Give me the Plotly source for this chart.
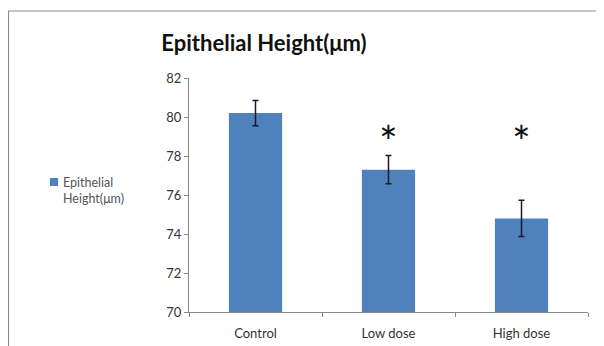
import plotly.graph_objects as go

categories = ["Control", "Low dose", "High dose"]
values = [80.2, 77.3, 74.8]
errors = [0.65, 0.72, 0.93]
significant = ["Low dose", "High dose"]
sig_level = 79.2
y_ticks = [70, 72, 74, 76, 78, 80, 82]
series_name = "Epithelial<br>Height(μm)"

FONT = "Lato, 'DejaVu Sans', sans-serif"
BAR = "#4F81BD"

# page body has an 8px margin; plot coordinates below are in figure pixels
L, T, W, H = 181, 70, 604, 346
PW, PH = 399, 234

def px_x(x):
    return (x - L) / PW

def px_y(y):
    return 1 - (y - T) / PH

fig = go.Figure()
fig.add_trace(go.Bar(
    x=categories, y=values, name=series_name, showlegend=False,
    marker=dict(color=BAR, line=dict(width=0)),
    error_y=dict(type="data", array=errors, visible=True,
                 color="#1a1a2e", thickness=1.5, width=3),
))

for c in significant:
    fig.add_annotation(x=c, y=sig_level, text="*", showarrow=False,
                       font=dict(family=FONT, size=44, color="#111"),
                       yanchor="middle", yshift=-8)

# legend (drawn manually to match the compact Excel style)
fig.add_shape(type="rect", xref="paper", yref="paper",
              x0=px_x(42), x1=px_x(50), y0=px_y(178), y1=px_y(170),
              line=dict(width=0), fillcolor=BAR)
fig.add_annotation(xref="paper", yref="paper", x=px_x(53), y=px_y(165),
                   text=series_name, showarrow=False, align="left",
                   xanchor="left", yanchor="top",
                   font=dict(family=FONT, size=12.5, color="#555"))

# outer chart border
fig.add_shape(type="rect", xref="paper", yref="paper",
              x0=px_x(0.5), x1=px_x(700), y0=px_y(500), y1=px_y(3),
              line=dict(color="#8a8a8a", width=1.2), fillcolor="rgba(0,0,0,0)",
              layer="below")

fig.update_layout(
    width=W, height=H,
    margin=dict(l=L, r=W - L - PW, t=T, b=H - T - PH),
    paper_bgcolor="white", plot_bgcolor="white",
    bargap=0.6,
    title=dict(text="<b>Epithelial Height(μm)</b>", x=256 / W, xref="container",
               xanchor="center", y=1 - 35 / H, yref="container", yanchor="middle",
               font=dict(family=FONT, size=22, color="#111")),
    showlegend=False,
    font=dict(family=FONT, size=13, color="#333"),
)
fig.update_yaxes(range=[70, 82], tickvals=y_ticks, showgrid=False, zeroline=False,
                 showline=True, linecolor="#888", linewidth=1,
                 ticks="outside", ticklen=4, tickcolor="#888",
                 tickfont=dict(family=FONT, size=13, color="#333"))
fig.update_xaxes(showgrid=False, showline=True, linecolor="#888", linewidth=1,
                 ticks="outside", ticklen=4, tickcolor="#888", tickson="boundaries",
                 ticklabelstandoff=9,
                 tickfont=dict(family=FONT, size=13, color="#333"))

fig.write_html("out.html")
